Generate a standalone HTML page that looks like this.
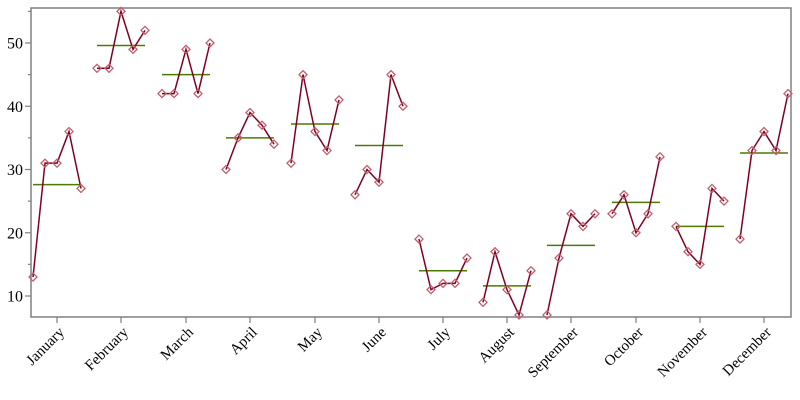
<!DOCTYPE html>
<html><head><meta charset="utf-8"><style>
html,body{margin:0;padding:0;background:#fff;}
svg{display:block;font-family:"Liberation Serif",serif;}
</style></head><body>
<svg id="s" width="800" height="400" xmlns="http://www.w3.org/2000/svg">
<rect x="31" y="8" width="760" height="309" fill="none" stroke="#808080" stroke-width="1.5"/>
</svg>
<script>
const s=document.getElementById('s');const NS='http://www.w3.org/2000/svg';
function el(t,a,txt){const e=document.createElementNS(NS,t);for(const k in a)e.setAttribute(k,a[k]);if(txt!==undefined)e.textContent=txt;s.appendChild(e);return e;}
const y=v=>359.25-6.325*v;
for(let v=10;v<=55;v+=5){const major=v%10==0;el('line',{x1:major?25:28,x2:31,y1:y(v),y2:y(v),stroke:'#808080','stroke-width':1.2});
if(major)el('text',{x:23,y:y(v)+5.5,'text-anchor':'end','font-size':16},v);}
const names=['January','February','March','April','May','June','July','August','September','October','November','December'];
const cx=[57,121,186,250,315,379,443,507,571,636,700,764];
const d=[[13,31,31,36,27],[46,46,55,49,52],[42,42,49,42,50],[30,35,39,37,34],[31,45,36,33,41],[26,30,28,45,40],[19,11,12,12,16],[9,17,11,7,14],[7,16,23,21,23],[23,26,20,23,32],[21,17,15,27,25],[19,33,36,33,42]];
d.forEach((arr,i)=>{const c=cx[i];
el('line',{x1:c,x2:c,y1:317,y2:323,stroke:'#808080','stroke-width':1.2});
el('text',{x:0,y:0,'text-anchor':'end','font-size':15,transform:`translate(${c+8},${333}) rotate(-45)`},names[i]);
const m=arr.reduce((a,b)=>a+b)/arr.length;
el('line',{x1:c-24,x2:c+24,y1:y(m),y2:y(m),stroke:'#4d7a00','stroke-width':1.5});
const pts=arr.map((v,j)=>[c-24+12*j,y(v)]);
el('polyline',{points:pts.map(p=>p.join(',')).join(' '),fill:'none',stroke:'#800020','stroke-width':1.5});
pts.forEach(p=>el('path',{d:`M${p[0]},${p[1]-4}L${p[0]+4},${p[1]}L${p[0]},${p[1]+4}L${p[0]-4},${p[1]}Z`,fill:'none',stroke:'#c0606e','stroke-width':1.3}));
});
</script>
</body></html>
